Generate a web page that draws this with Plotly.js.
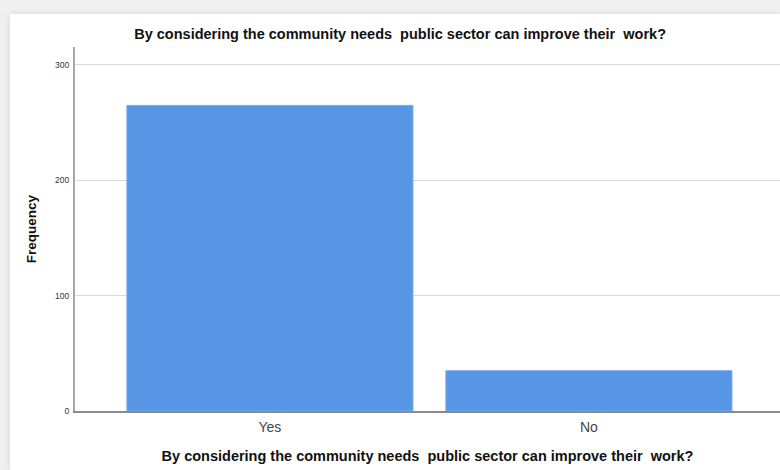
<!DOCTYPE html>
<html>
<head>
<meta charset="utf-8">
<script src="https://cdn.plot.ly/plotly-3.0.1.min.js"></script>
<style>
html,body{margin:0;padding:0;background:#f0f0f0;width:780px;height:470px;overflow:hidden;}
#card{position:absolute;left:10px;top:14px;width:770px;height:456px;background:#ffffff;box-shadow:0 0 6px rgba(0,0,0,0.12);}
#chart{position:absolute;left:0;top:0;width:780px;height:470px;}
</style>
</head>
<body>
<div id="card"></div>
<div id="chart"></div>
<script>
const categories = ["Yes", "No"];
const frequencies = [265, 35];
const yTicks = [0, 100, 200, 300];
const chartTitle = "By considering the community needs&nbsp; public sector can improve their&nbsp; work?";
const yTitle = "Frequency";

const trace = {
  type: "bar",
  x: [0, 1],
  y: frequencies,
  width: 0.897,
  marker: {color: "#5795e5", line: {color: "#7fb0f0", width: 1}},
  hoverinfo: "skip"
};

const layout = {
  width: 780, height: 470,
  paper_bgcolor: "rgba(0,0,0,0)",
  plot_bgcolor: "rgba(0,0,0,0)",
  margin: {l: 75, r: 0, t: 47, b: 59},
  showlegend: false,
  font: {family: "Liberation Sans, Arial, sans-serif", color: "#222"},
  title: {
    text: "<b>" + chartTitle + "</b>",
    font: {size: 14.5, color: "#111"},
    xref: "container", yref: "container",
    x: 0.513, xanchor: "center", y: 1 - 34/470, yanchor: "middle"
  },
  xaxis: {
    range: [-0.611, 1.599],
    tickmode: "array", tickvals: [0, 1], ticktext: categories,
    ticks: "", showgrid: false, zeroline: false,
    showline: true, linecolor: "#8a8a8a", linewidth: 2,
    tickfont: {size: 14, color: "#444"},
    ticklabelstandoff: 2,
    title: {text: "<b>" + chartTitle + "</b>", font: {size: 14.5, color: "#111"}, standoff: 17},
    automargin: false, fixedrange: true
  },
  yaxis: {
    range: [0, 315.6],
    tickmode: "array", tickvals: yTicks,
    ticks: "", showgrid: true, gridcolor: "#d9d9d9", gridwidth: 1,
    zeroline: false,
    showline: true, linecolor: "#a8a8a8", linewidth: 2,
    tickfont: {size: 8.5, color: "#333"},
    ticklabelstandoff: 2,
    title: {text: "<b>" + yTitle + "</b>", font: {size: 13.5, color: "#111"}, standoff: 15},
    automargin: false, fixedrange: true
  }
};

Plotly.newPlot("chart", [trace], layout, {displayModeBar: false, staticPlot: true});
</script>
</body>
</html>
